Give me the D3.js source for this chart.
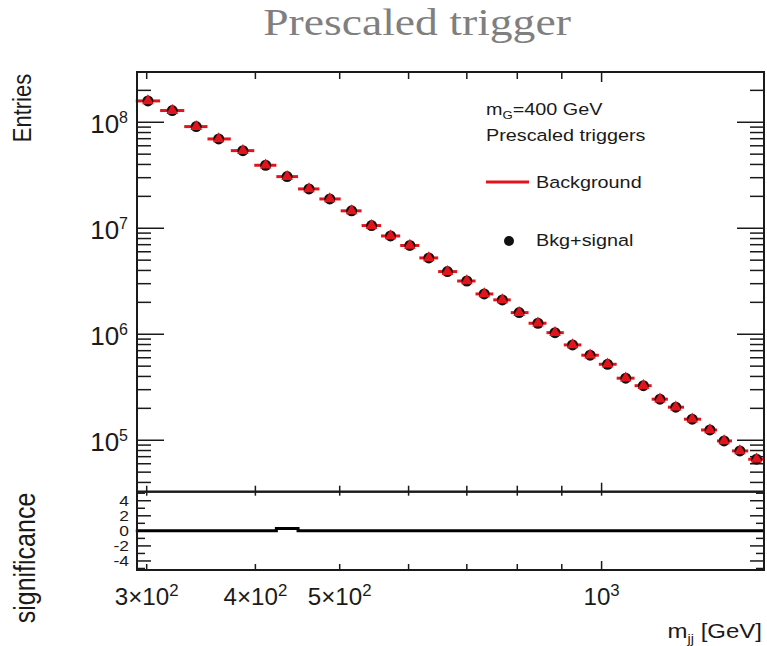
<!DOCTYPE html>
<html>
<head>
<meta charset="utf-8">
<script src="https://cdn.jsdelivr.net/npm/d3@7"></script>
<style>
  body { margin: 0; background: #fff; }
  svg { display: block; font-family: Arial, "Liberation Sans", sans-serif; }
</style>
</head>
<body>
<div id="chart"></div>
<script>
// bin centres in m_jj [GeV]
const mjj = [301, 321, 342, 363, 387, 411, 435, 461, 487, 516, 544, 572, 602, 633, 665, 700,
  733, 769, 804, 845, 884, 926, 970, 1016, 1066, 1117, 1167, 1217, 1271, 1332, 1383, 1442, 1507];
// background fit (red histogram)
const background = [1.59e8, 1.29e8, 9.1e7, 6.96e7, 5.4e7, 3.93e7, 3.07e7, 2.35e7, 1.89e7, 1.46e7,
  1.06e7, 8.46e6, 6.88e6, 5.25e6, 3.9e6, 3.18e6, 2.4e6, 2.11e6, 1.6e6, 1.27e6, 1.035e6, 7.93e5,
  6.34e5, 5.21e5, 3.85e5, 3.27e5, 2.44e5, 2.05e5, 1.58e5, 1.25e5, 9.85e4, 7.93e4, 6.62e4];
// background + signal (markers)
const bkgSignal = [1.59e8, 1.29e8, 9.1e7, 6.96e7, 5.4e7, 3.93e7, 3.07e7, 2.35e7, 1.89e7, 1.46e7,
  1.06e7, 8.46e6, 6.88e6, 5.25e6, 3.9e6, 3.18e6, 2.4e6, 2.11e6, 1.6e6, 1.27e6, 1.035e6, 7.93e5,
  6.34e5, 5.21e5, 3.85e5, 3.27e5, 2.44e5, 2.05e5, 1.58e5, 1.25e5, 9.85e4, 7.93e4, 6.62e4];
// significance per bin
const significance = [0, 0, 0, 0, 0, 0, 0.3, 0, 0, 0, 0, 0, 0, 0, 0, 0,
  0, 0, 0, 0, 0, 0, 0, 0, 0, 0, 0, 0, 0, 0, 0, 0, 0];

const xTickValues = [300, 400, 500, 600, 700, 800, 900, 1000];
const xTickLabels = { 300: ["3\u00d710", "2"], 400: ["4\u00d710", "2"], 500: ["5\u00d710", "2"], 1000: ["10", "3"] };
const yDecades = [1e5, 1e6, 1e7, 1e8];
const sigTicks = [-4, -2, 0, 2, 4];

const W = 767, H = 646;
const frame = { left: 137, right: 764, top: 72, mid: 491.7, bottom: 570 };
const red = "#e3131b";
const ink = "#1a1a1a";

const svg = d3.select("#chart").append("svg").attr("width", W).attr("height", H);

const x = d3.scaleLog().domain([292.4, 1537]).range([frame.left, frame.right]);
const y = d3.scaleLog().domain([3.27e4, 2.98e8]).range([frame.mid, frame.top]);
const ys = d3.scaleLinear().domain([-5.2, 5.2]).range([frame.bottom, frame.mid]);

// the original picture is stretched sideways a bit, so text gets a scaleX
function stretchText(parent, px, py, size, anchor, sx, rotate) {
  return parent.append("text")
    .attr("transform", `translate(${px},${py}) scale(${sx},1)` + (rotate ? ` rotate(${rotate})` : ""))
    .attr("font-size", size)
    .attr("text-anchor", anchor)
    .attr("fill", ink);
}

// bin edges from neighbouring centres
const edges = mjj.map((m, i) => {
  const lo = i === 0 ? m * m / Math.sqrt(m * mjj[1]) : Math.sqrt(m * mjj[i - 1]);
  const hi = i === mjj.length - 1 ? m * m / Math.sqrt(m * mjj[i - 1]) : Math.sqrt(m * mjj[i + 1]);
  return [lo, hi];
});

// Title
stretchText(svg, 417, 35, 38, "middle", 1.2)
  .attr("font-family", "'Liberation Serif', 'Times New Roman', serif")
  .attr("fill", "#7f7f7f")
  .text("Prescaled trigger");

// Y ticks main panel (both sides)
const ticksG = svg.append("g").attr("stroke", ink).attr("stroke-width", 1.5);
[1e4, 1e5, 1e6, 1e7, 1e8].forEach(dec => {
  for (let k = 1; k <= 9; k++) {
    const v = dec * k;
    if (v < y.domain()[0] || v > y.domain()[1]) continue;
    const len = k === 1 ? 27 : 14;
    ticksG.append("line").attr("x1", frame.left).attr("x2", frame.left + len)
      .attr("y1", y(v)).attr("y2", y(v));
    ticksG.append("line").attr("x1", frame.right).attr("x2", frame.right - len)
      .attr("y1", y(v)).attr("y2", y(v));
  }
});

// Y tick labels main panel
yDecades.forEach(dec => {
  const t = stretchText(svg, 128, y(dec) + 11, 26, "end", 1.0);
  t.append("tspan").text("10");
  t.append("tspan").attr("font-size", 16).attr("dy", -10).text(String(Math.round(Math.log10(dec))));
});

// Significance y ticks
for (let v = -5; v <= 5; v++) {
  const len = v % 2 === 0 ? 14 : 8;
  ticksG.append("line").attr("x1", frame.left).attr("x2", frame.left + len).attr("y1", ys(v)).attr("y2", ys(v));
  ticksG.append("line").attr("x1", frame.right).attr("x2", frame.right - len).attr("y1", ys(v)).attr("y2", ys(v));
}
sigTicks.forEach(v => {
  stretchText(svg, 129, ys(v) + 5, 14.5, "end", 1.2).text(String(v));
});

// X ticks
xTickValues.forEach(v => {
  const big = v === 1000 ? 3 : 0;
  const px = x(v);
  ticksG.append("line").attr("x1", px).attr("x2", px).attr("y1", frame.top).attr("y2", frame.top + 7 + big);
  ticksG.append("line").attr("x1", px).attr("x2", px).attr("y1", frame.mid - 6 - big).attr("y2", frame.mid + 4);
  ticksG.append("line").attr("x1", px).attr("x2", px).attr("y1", frame.bottom).attr("y2", frame.bottom - 6 - big);
  const lab = xTickLabels[v];
  if (lab) {
    const t = stretchText(svg, px, 605, 23, "middle", 1.05);
    t.append("tspan").text(lab[0]);
    t.append("tspan").attr("font-size", 16).attr("dy", -9).text(lab[1]);
  }
});

// Background histogram segments
svg.append("g").selectAll("line").data(background).join("line")
  .attr("x1", (d, i) => x(edges[i][0]))
  .attr("x2", (d, i) => x(edges[i][1]))
  .attr("y1", d => y(d)).attr("y2", d => y(d))
  .attr("stroke", red).attr("stroke-width", 3);

// Bkg+signal markers
const pts = svg.append("g");
pts.selectAll("circle").data(bkgSignal).join("circle")
  .attr("cx", (d, i) => x(mjj[i])).attr("cy", d => y(d))
  .attr("r", 5.5).attr("fill", "#111");
pts.selectAll("path").data(bkgSignal).join("path")
  .attr("transform", (d, i) => `translate(${x(mjj[i])},${y(d)})`)
  .attr("d", d3.symbol(d3.symbolTriangle, 58))
  .attr("fill", red);

// Significance step line
const stepPts = [];
significance.forEach((s, i) => {
  stepPts.push([edges[i][0], s], [edges[i][1], s]);
});
svg.append("path").datum(stepPts)
  .attr("fill", "none").attr("stroke", "#000").attr("stroke-width", 3)
  .attr("d", d3.line().x(d => x(d[0])).y(d => ys(d[1])));

// Frames
svg.append("rect").attr("x", frame.left).attr("y", frame.top)
  .attr("width", frame.right - frame.left).attr("height", frame.mid - frame.top)
  .attr("fill", "none").attr("stroke", ink).attr("stroke-width", 2);
svg.append("rect").attr("x", frame.left).attr("y", frame.mid)
  .attr("width", frame.right - frame.left).attr("height", frame.bottom - frame.mid)
  .attr("fill", "none").attr("stroke", ink).attr("stroke-width", 2);

// Axis titles
stretchText(svg, 31, 108, 22, "middle", 1.2, -90).text("Entries");
stretchText(svg, 35, 558, 25, "middle", 1.2, -90).text("significance");
const xt = stretchText(svg, 762, 638, 20, "end", 1.2);
xt.append("tspan").text("m");
xt.append("tspan").attr("font-size", 12).attr("dy", 5).text("jj");
xt.append("tspan").attr("dy", -5).text(" [GeV]");

// Legend
const lt1 = stretchText(svg, 486, 115, 16.5, "start", 1.2);
lt1.append("tspan").text("m");
lt1.append("tspan").attr("font-size", 11).attr("dy", 4).text("G");
lt1.append("tspan").attr("dy", -4).text("=400 GeV");
stretchText(svg, 486, 141, 16.5, "start", 1.2).text("Prescaled triggers");
svg.append("line").attr("x1", 486).attr("x2", 529).attr("y1", 182).attr("y2", 182)
  .attr("stroke", red).attr("stroke-width", 3);
stretchText(svg, 536, 188, 16.5, "start", 1.2).text("Background");
svg.append("circle").attr("cx", 509).attr("cy", 241).attr("r", 5).attr("fill", "#111");
stretchText(svg, 536, 246, 16.5, "start", 1.2).text("Bkg+signal");
</script>
</body>
</html>
